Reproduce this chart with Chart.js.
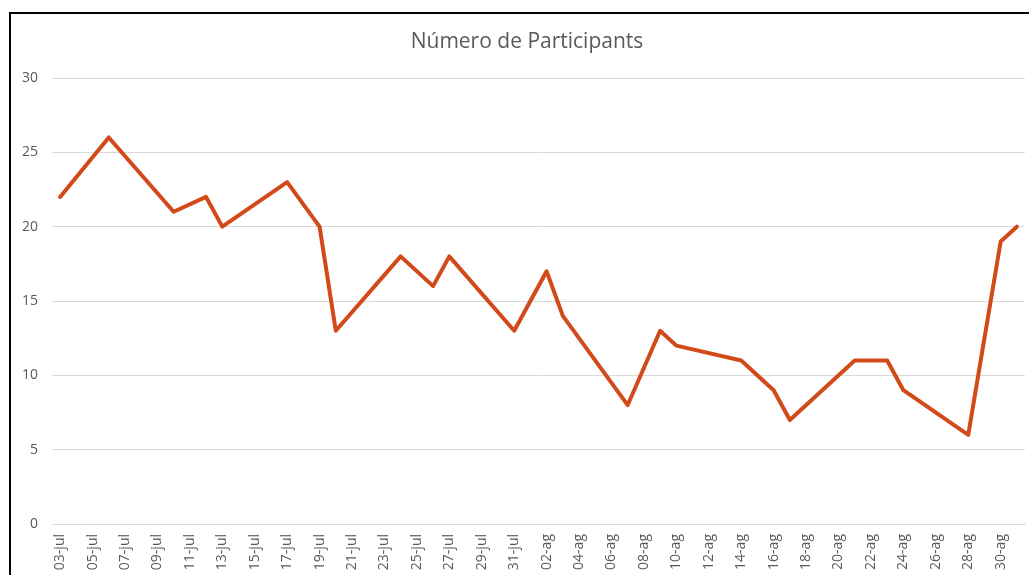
<!DOCTYPE html>
<html>
<head>
<meta charset="utf-8">
<script src="https://cdn.jsdelivr.net/npm/chart.js@4/dist/chart.umd.min.js"></script>
<style>
  html, body { margin: 0; padding: 0; background: #fff; overflow: hidden; width: 1029px; height: 575px; }
  #wrap { position: relative; width: 1029px; height: 575px; overflow: hidden; }
  #c { position: absolute; left: 0; top: 0; }
  #frame { position: absolute; left: 9px; top: 12px; width: 1100px; height: 700px; border: 2px solid #000; pointer-events: none; box-sizing: border-box; }
</style>
</head>
<body>
<div id="wrap">
  <canvas id="c" width="1029" height="584"></canvas>
  <div id="frame"></div>
</div>
<script>
const chartTitle = "Número de Participants";
const dates = ["03-jul","06-jul","10-jul","12-jul","13-jul","17-jul","19-jul","20-jul","24-jul","26-jul","27-jul","31-jul",
               "02-ag","03-ag","07-ag","09-ag","10-ag","14-ag","16-ag","17-ag","21-ag","23-ag","24-ag","28-ag","30-ag","31-ag"];
const participants = [22,26,21,22,20,23,20,13,18,16,18,13,17,14,8,13,12,11,9,7,11,11,9,6,19,20];
const tickLabels = ["03-jul","05-jul","07-jul","09-jul","11-jul","13-jul","15-jul","17-jul","19-jul","21-jul","23-jul","25-jul","27-jul","29-jul","31-jul",
                    "02-ag","04-ag","06-ag","08-ag","10-ag","12-ag","14-ag","16-ag","18-ag","20-ag","22-ag","24-ag","26-ag","28-ag","30-ag"];
const yTicks = [0,5,10,15,20,25,30];

// day offset from 03-jul
function dayIndex(s) {
  const [d, m] = s.split("-");
  const day = parseInt(d, 10);
  return m === "jul" ? day - 3 : 28 + day;
}

const points = dates.map((d, i) => ({ x: dayIndex(d), y: participants[i] }));
const labelByDay = {};
tickLabels.forEach(l => { labelByDay[dayIndex(l)] = l; });

const textColor = "#595959";
const fontFamily = "'Open Sans', 'Liberation Sans', sans-serif";

const titlePlugin = {
  id: 'customTitle',
  afterDraw(chart) {
    const ctx = chart.ctx;
    ctx.save();
    ctx.font = "21px " + fontFamily;
    ctx.fillStyle = textColor;
    ctx.textAlign = "center";
    ctx.textBaseline = "middle";
    ctx.fillText(chartTitle, 527, 42);
    ctx.restore();
  }
};

new Chart(document.getElementById('c'), {
  type: 'line',
  data: {
    datasets: [{
      label: chartTitle,
      data: points,
      borderColor: '#D24A1A',
      backgroundColor: '#D24A1A',
      borderWidth: 4,
      pointRadius: 0,
      tension: 0,
      borderJoinStyle: 'round',
      borderCapStyle: 'round',
      fill: false
    }]
  },
  options: {
    responsive: false,
    animation: false,
    layout: { padding: { top: 78, left: 0, right: 4, bottom: 0 } },
    plugins: { legend: { display: false }, title: { display: false }, tooltip: { enabled: false } },
    scales: {
      x: {
        type: 'linear',
        min: -0.5,
        max: 59.5,
        afterFit(scale) { scale.height = 60; },
        afterBuildTicks(scale) { scale.ticks = tickLabels.map(l => ({ value: dayIndex(l) })); },
        grid: { display: false, drawTicks: false },
        border: { display: true, color: '#d9d9d9', width: 1 },
        ticks: {
          autoSkip: false,
          minRotation: 90,
          maxRotation: 90,
          padding: 10,
          color: textColor,
          font: { family: fontFamily, size: 14 },
          callback: (v) => labelByDay[v] || ''
        }
      },
      y: {
        min: 0,
        max: 30,
        afterFit(scale) { scale.width = 52; },
        afterBuildTicks(scale) { scale.ticks = yTicks.map(v => ({ value: v })); },
        grid: { color: '#d9d9d9', lineWidth: 1, drawTicks: false },
        border: { display: false },
        ticks: {
          padding: 14,
          color: textColor,
          font: { family: fontFamily, size: 14 }
        }
      }
    }
  },
  plugins: [titlePlugin]
});
</script>
</body>
</html>
